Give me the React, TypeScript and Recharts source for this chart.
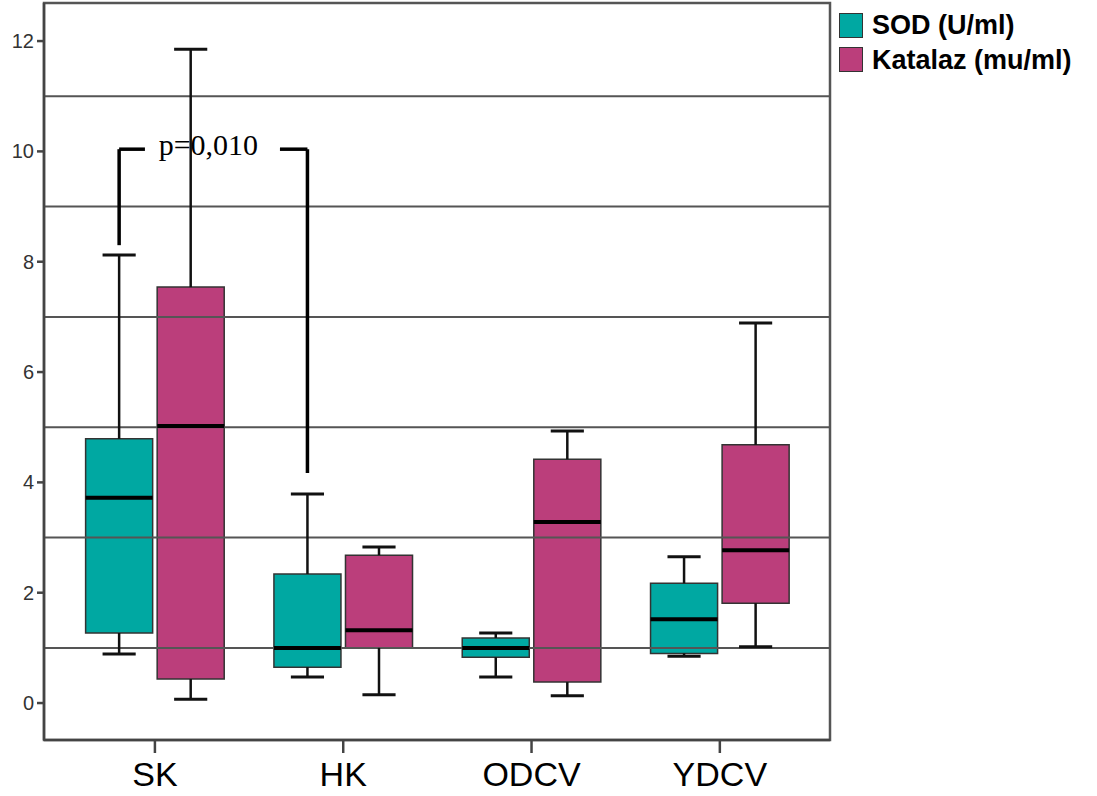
import {
  ComposedChart,
  XAxis,
  YAxis,
  Scatter,
  ReferenceArea,
  ReferenceLine,
  ReferenceDot,
} from "recharts";

const categories = ["SK", "HK", "ODCV", "YDCV"];

// SOD (U/ml)
const sodMin = [0.89, 0.47, 0.47, 0.85];
const sodQ1 = [1.27, 0.65, 0.83, 0.9];
const sodMedian = [3.72, 1.0, 1.0, 1.52];
const sodQ3 = [4.79, 2.34, 1.18, 2.17];
const sodMax = [8.12, 3.79, 1.27, 2.65];

// Katalaz (mu/ml)
const katMin = [0.07, 0.15, 0.13, 1.02];
const katQ1 = [0.435, 1.0, 0.38, 1.81];
const katMedian = [5.02, 1.32, 3.28, 2.77];
const katQ3 = [7.54, 2.68, 4.42, 4.68];
const katMax = [11.85, 2.83, 4.93, 6.89];

const yTicks = [0, 2, 4, 6, 8, 10, 12];
const gridValues = [1, 3, 5, 7, 9, 11];

const X_DOMAIN: [number, number] = [-0.589, 3.585];
const Y_DOMAIN: [number, number] = [-0.67, 12.69];

const SOD_COLOR = "#00A8A2";
const KAT_COLOR = "#BB3E7B";
const FONT = "'Liberation Sans', Arial, sans-serif";

const OFFSET = 0.19;
const HALF_BOX = 0.178;
const HALF_CAP = 0.088;

interface Series {
  key: string;
  name: string;
  color: string;
  shift: number;
  min: number[];
  q1: number[];
  median: number[];
  q3: number[];
  max: number[];
}

const series: Series[] = [
  { key: "sod", name: "SOD (U/ml)", color: SOD_COLOR, shift: -OFFSET, min: sodMin, q1: sodQ1, median: sodMedian, q3: sodQ3, max: sodMax },
  { key: "kat", name: "Katalaz (mu/ml)", color: KAT_COLOR, shift: OFFSET, min: katMin, q1: katQ1, median: katMedian, q3: katQ3, max: katMax },
];

function seg(x1: number, y1: number, x2: number, y2: number) {
  return [
    { x: x1, y: y1 },
    { x: x2, y: y2 },
  ];
}

export default function App() {
  const boxes: any[] = [];
  series.forEach((s) => {
    categories.forEach((c, i) => {
      const cx = i + s.shift;
      // whiskers
      boxes.push(
        <ReferenceLine key={`${s.key}-wu-${c}`} segment={seg(cx, s.q3[i], cx, s.max[i])} stroke="#111" strokeWidth={2.5} />,
        <ReferenceLine key={`${s.key}-wl-${c}`} segment={seg(cx, s.min[i], cx, s.q1[i])} stroke="#111" strokeWidth={2.5} />,
        <ReferenceLine key={`${s.key}-cu-${c}`} segment={seg(cx - HALF_CAP, s.max[i], cx + HALF_CAP, s.max[i])} stroke="#111" strokeWidth={3} />,
        <ReferenceLine key={`${s.key}-cl-${c}`} segment={seg(cx - HALF_CAP, s.min[i], cx + HALF_CAP, s.min[i])} stroke="#111" strokeWidth={3} />,
        <ReferenceArea
          key={`${s.key}-box-${c}`}
          x1={cx - HALF_BOX}
          x2={cx + HALF_BOX}
          y1={s.q1[i]}
          y2={s.q3[i]}
          fill={s.color}
          fillOpacity={1}
          stroke="#333"
          strokeWidth={1.5}
        />,
        <ReferenceLine key={`${s.key}-med-${c}`} segment={seg(cx - HALF_BOX, s.median[i], cx + HALF_BOX, s.median[i])} stroke="#000" strokeWidth={4} />
      );
    });
  });

  const medianPoints = categories.map((c, i) => ({ x: i, y: sodMedian[i], name: c }));

  return (
    <div style={{ position: "absolute", left: 0, top: 0, width: 1097, height: 796, background: "#fff" }}>
      <ComposedChart width={1097} height={796} margin={{ top: 3, right: 267, bottom: 0, left: 0 }}>
        <XAxis
          type="number"
          dataKey="x"
          domain={X_DOMAIN}
          ticks={[0, 1, 2, 3]}
          tickFormatter={(v) => categories[v] ?? ""}
          allowDataOverflow
          height={56}
          tickSize={13}
          tickMargin={9}
          stroke="#444"
          strokeWidth={2.5}
          tick={{ fontSize: 34, fill: "#000", fontFamily: FONT }}
        />
        <YAxis
          type="number"
          dataKey="y"
          domain={Y_DOMAIN}
          ticks={yTicks}
          allowDataOverflow
          width={44}
          tickSize={7}
          tickMargin={3}
          stroke="#444"
          strokeWidth={2.5}
          tick={{ fontSize: 20, fill: "#333", fontFamily: FONT }}
        />
        {gridValues.map((v) => (
          <ReferenceLine key={`g${v}`} y={v} stroke="#555" strokeWidth={2} />
        ))}
        <ReferenceArea
          x1={X_DOMAIN[0]}
          x2={X_DOMAIN[1]}
          y1={Y_DOMAIN[0]}
          y2={Y_DOMAIN[1]}
          fill="none"
          stroke="#555"
          strokeWidth={2.5}
          ifOverflow="visible"
        />
        {boxes}
        {/* significance bracket */}
        <ReferenceLine segment={seg(-0.19, 8.3, -0.19, 10.04)} stroke="#000" strokeWidth={3.5} />
        <ReferenceLine segment={seg(-0.19, 10.04, -0.053, 10.04)} stroke="#000" strokeWidth={3.5} />
        <ReferenceLine segment={seg(0.664, 10.04, 0.81, 10.04)} stroke="#000" strokeWidth={3.5} />
        <ReferenceLine segment={seg(0.81, 10.04, 0.81, 4.17)} stroke="#000" strokeWidth={3.5} />
        <ReferenceDot
          x={0.284}
          y={10.04}
          r={0}
          fill="none"
          stroke="none"
          label={(props: any) => {
            const vb = props.viewBox || {};
            const x = (vb.x ?? 0) + (vb.width ?? 0) / 2;
            const y = (vb.y ?? 0) + (vb.height ?? 0) / 2;
            return (
              <text x={x} y={y + 6} textAnchor="middle" fontSize={30} fontFamily="'Liberation Serif', 'Times New Roman', serif" fill="#000">
                p=0,010
              </text>
            );
          }}
        />
        <Scatter data={medianPoints} shape={() => <g />} isAnimationActive={false} />
      </ComposedChart>
      <div style={{ position: "absolute", left: 839, top: 8, fontFamily: FONT, fontSize: 27, fontWeight: "bold", color: "#000" }}>
        {series.map((s) => (
          <div key={s.key} style={{ display: "flex", alignItems: "center", height: 34.5 }}>
            <div style={{ width: 24, height: 25, background: s.color, border: "1.5px solid #333", boxSizing: "border-box", marginRight: 9 }} />
            <span style={{ lineHeight: "30px" }}>{s.name}</span>
          </div>
        ))}
      </div>
    </div>
  );
}
